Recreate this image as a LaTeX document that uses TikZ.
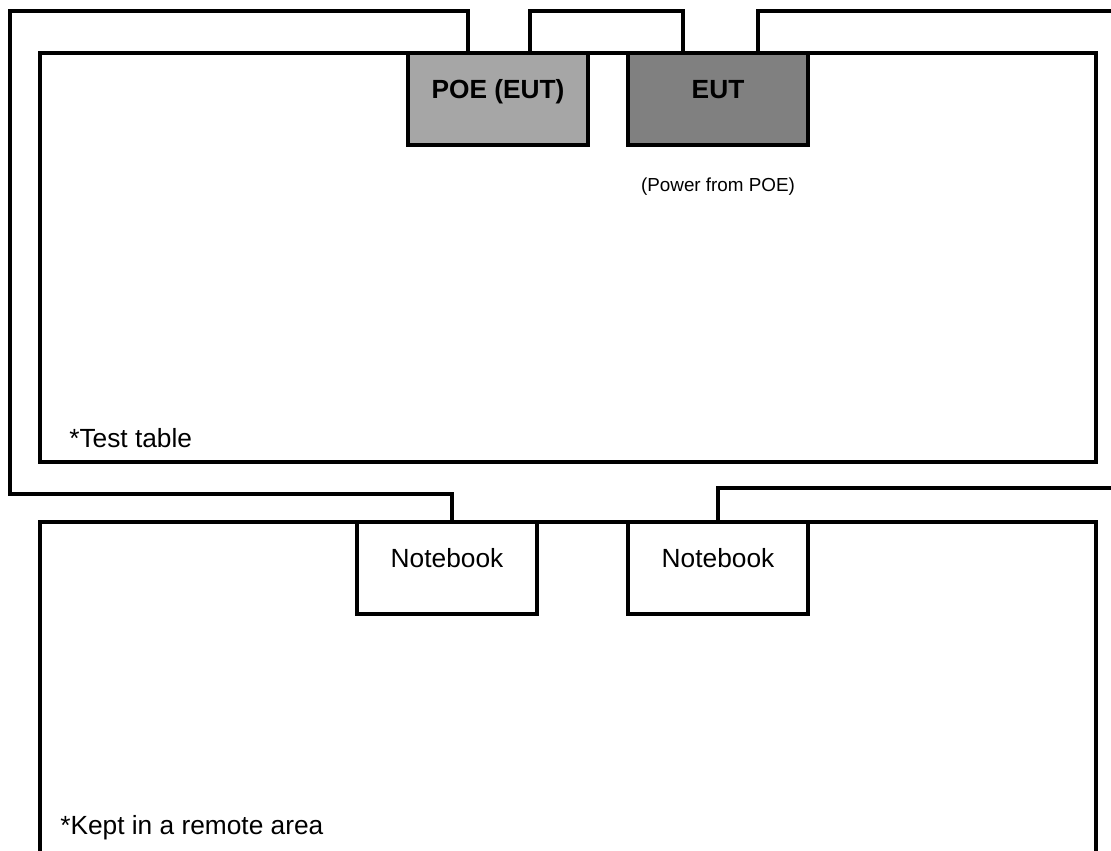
\documentclass[tikz,border=0pt]{standalone}
\usepackage{fontspec}
\setmainfont{Liberation Sans}
\usetikzlibrary{positioning, calc}
\definecolor{poegray}{HTML}{A6A6A6}
\definecolor{eutgray}{HTML}{808080}

\begin{document}
\begin{tikzpicture}[
  x=0.025cm, y=-0.025cm,
  area/.style={rectangle, draw, line width=2.6pt, minimum width=26.4cm,
               anchor=north west, inner sep=0pt, outer sep=0pt},
  unit/.style={rectangle, draw, line width=2.6pt, minimum width=4.5cm,
               minimum height=2.3cm, anchor=north west, outer sep=0pt,
               text height=0.5cm, text depth=0.55cm,
               font=\fontsize{18.7}{22}\selectfont},
  cable/.style={line width=2.6pt},
  note/.style={anchor=base west, inner sep=0pt,
               font=\fontsize{18.7}{22}\selectfont},
]
  \useasboundingbox (0,0) rectangle (1111,850);
  \clip (0,0) rectangle (1111,850);

  % tables
  \node[area, minimum height=10.225cm] (tbl) at (40,53) {};
  \node[area, minimum height=9cm]      (rem) at (40,522) {};
  \node[note] (ttbl) at (69,447) {*Test table};
  \node[note] (trem) at (60,834) {*Kept in a remote area};

  % units
  \node[unit, fill=poegray] (poe) at (408,53)  {\textbf{POE (EUT)}};
  \node[unit, fill=eutgray] (eut) at (628,53)  {\textbf{EUT}};
  \node[unit, fill=white]   (nb1) at (357,522) {Notebook};
  \node[unit, fill=white]   (nb2) at (628,522) {Notebook};
  \node[font=\fontsize{13.4}{16}\selectfont] (pwr) at ($(eut.south)+(0,42)$) {(Power from POE)};

  % cables
  \coordinate (eutout) at (1120,11);
  \coordinate (nbout)  at (1120,488);
  \draw[cable] ($(poe.north)+(-30,0)$) |- (10,11) |- (452,494) -- ($(nb1.north)+(5,0)$);
  \draw[cable] ($(poe.north)+(32,0)$) -- ++(0,-42) -| ($(eut.north)+(-35,0)$);
  \draw[cable] ($(eut.north)+(40,0)$) -- ++(0,-42) -- (eutout);
  \draw[cable] (nb2.north) -- ++(0,-34) -- (nbout);
\end{tikzpicture}
\end{document}
